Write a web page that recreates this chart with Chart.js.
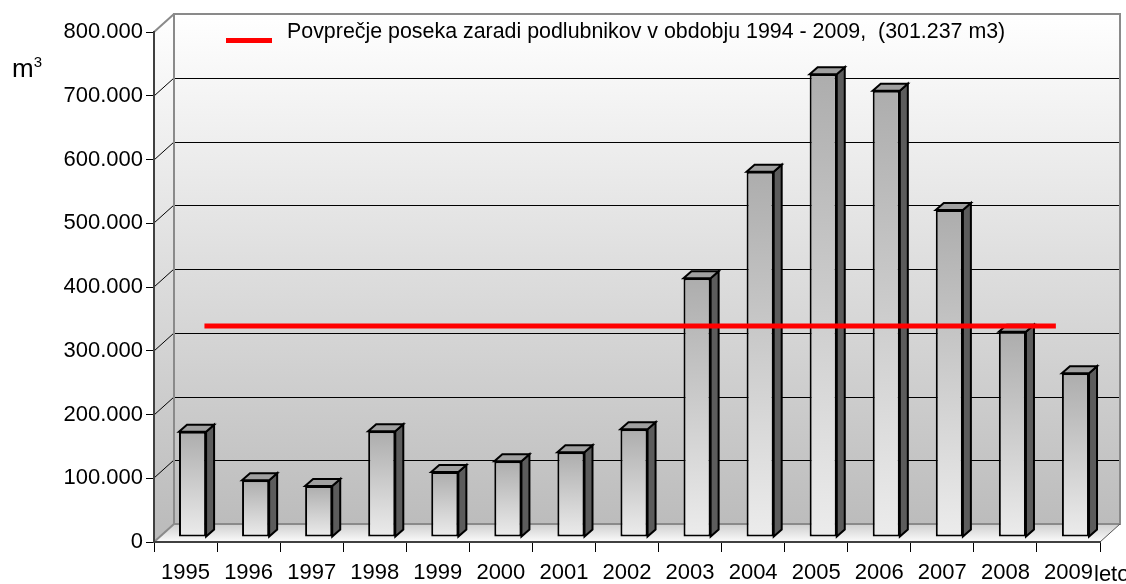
<!DOCTYPE html>
<html>
<head>
<meta charset="utf-8">
<script src="https://cdn.jsdelivr.net/npm/chart.js@4.4.1/dist/chart.umd.min.js"></script>
<style>
  html, body { margin: 0; padding: 0; background: #fff; }
  #okvir { width: 1126px; height: 584px; }
</style>
</head>
<body>
<div id="okvir"><canvas id="graf" width="1126" height="584"></canvas></div>
<script>
// podatki, odčitani s slike
const leta = ["1995", "1996", "1997", "1998", "1999", "2000", "2001", "2002",
  "2003", "2004", "2005", "2006", "2007", "2008", "2009"];
const posek = [165000, 89000, 80000, 166000, 102000, 119000, 133000, 169000,
  406000, 573000, 726000, 700000, 513000, 322000, 257000];
const yOznake = [0, 100000, 200000, 300000, 400000, 500000, 600000, 700000, 800000];
const povprecjeNivo = 339000;
const povprecjeLeta = [1995.3, 2008.8];
const legendaBesedilo = "Povprečje poseka zaradi podlubnikov v obdobju 1994 - 2009,  (301.237 m3)";
const enota = ["m", "3"];
const osXNaslov = "leto";

const FONT = "'Liberation Sans', Arial, sans-serif";
const GLOBINA = { x: 20, y: -18 };        // zamik zadnje stene
const STOLPEC_ZAMIK = { x: 7, y: -5 };    // sprednja ploskev stolpca
const STOLPEC_GLOBINA = { x: 8, y: -7 };  // debelina stolpca

function formatirajStevilo(v) {
  return Number(v).toLocaleString("de-DE");
}

function gradientStolpca(context) {
  const chart = context.chart;
  const y = chart.scales.y;
  if (context.type !== "data" || !y) return "#c8c8c8";
  const vrh = y.getPixelForValue(context.raw);
  const dno = y.getPixelForValue(0);
  if (!isFinite(vrh) || !isFinite(dno) || vrh === dno) return "#c8c8c8";
  const g = chart.ctx.createLinearGradient(0, vrh, 0, dno);
  g.addColorStop(0, "#adadad");
  g.addColorStop(1, "#ececec");
  return g;
}

const stene3d = {
  id: "stene3d",
  beforeDraw(chart) {
    const { ctx, chartArea: a, scales } = chart;
    const y = scales.y;
    const dx = GLOBINA.x, dy = GLOBINA.y;

    ctx.save();

    // zadnja stena
    const gStena = ctx.createLinearGradient(0, a.top + dy, 0, a.bottom + dy);
    gStena.addColorStop(0, "#ffffff");
    gStena.addColorStop(1, "#bcbcbc");
    ctx.fillStyle = gStena;
    ctx.fillRect(a.left + dx, a.top + dy, a.right - a.left, a.bottom - a.top);

    // leva stena
    ctx.beginPath();
    ctx.moveTo(a.left, a.top);
    ctx.lineTo(a.left + dx, a.top + dy);
    ctx.lineTo(a.left + dx, a.bottom + dy);
    ctx.lineTo(a.left, a.bottom);
    ctx.closePath();
    ctx.fill();

    // tla
    const gTla = ctx.createLinearGradient(0, a.bottom + dy, 0, a.bottom);
    gTla.addColorStop(0, "#cfcfcf");
    gTla.addColorStop(1, "#fbfbfb");
    ctx.fillStyle = gTla;
    ctx.beginPath();
    ctx.moveTo(a.left, a.bottom);
    ctx.lineTo(a.left + dx, a.bottom + dy);
    ctx.lineTo(a.right + dx, a.bottom + dy);
    ctx.lineTo(a.right, a.bottom);
    ctx.closePath();
    ctx.fill();

    // mreža na zadnji steni in diagonale na levi steni
    yOznake.forEach(v => {
      const py = Math.round(y.getPixelForValue(v));
      const rob = v === 0 || v === 800000;
      if (!rob) {
        ctx.strokeStyle = "#000";
        ctx.lineWidth = 1;
        ctx.beginPath();
        ctx.moveTo(a.left + dx, py + dy + 0.5);
        ctx.lineTo(a.right + dx, py + dy + 0.5);
        ctx.stroke();
      }
      ctx.strokeStyle = rob ? "#8a8a8a" : "#000";
      ctx.lineWidth = rob ? 2 : 1;
      ctx.beginPath();
      ctx.moveTo(a.left, py);
      ctx.lineTo(a.left + dx, py + dy);
      ctx.stroke();
    });

    // robovi sten
    ctx.strokeStyle = "#8a8a8a";
    ctx.lineWidth = 2;
    ctx.beginPath();
    ctx.moveTo(a.left + dx, a.bottom + dy);
    ctx.lineTo(a.left + dx, a.top + dy);
    ctx.lineTo(a.right + dx, a.top + dy);
    ctx.lineTo(a.right + dx, a.bottom + dy);
    ctx.lineTo(a.left + dx, a.bottom + dy);
    ctx.stroke();

    ctx.strokeStyle = "#555";
    ctx.lineWidth = 1;
    ctx.beginPath();
    ctx.moveTo(a.right, a.bottom);
    ctx.lineTo(a.right + dx, a.bottom + dy);
    ctx.stroke();

    ctx.restore();
  },
  beforeDatasetDraw(chart, args) {
    if (args.index !== 0) return;
    chart.ctx.save();
    chart.ctx.translate(STOLPEC_ZAMIK.x, STOLPEC_ZAMIK.y);
  },
  afterDatasetDraw(chart, args) {
    if (args.index !== 0) return;
    const ctx = chart.ctx;
    const dx = STOLPEC_GLOBINA.x, dy = STOLPEC_GLOBINA.y;
    ctx.lineWidth = 2;
    ctx.strokeStyle = "#000";
    ctx.lineJoin = "miter";
    args.meta.data.forEach(el => {
      const { x, y, base, width } = el.getProps(["x", "y", "base", "width"], true);
      const l = x - width / 2, r = x + width / 2;
      // desna stranica
      ctx.fillStyle = "#5c5c5c";
      ctx.beginPath();
      ctx.moveTo(r, y);
      ctx.lineTo(r + dx, y + dy);
      ctx.lineTo(r + dx, base + dy);
      ctx.lineTo(r, base);
      ctx.closePath();
      ctx.fill();
      ctx.stroke();
      // zgornja ploskev
      ctx.fillStyle = "#a0a0a0";
      ctx.beginPath();
      ctx.moveTo(l, y);
      ctx.lineTo(l + dx, y + dy);
      ctx.lineTo(r + dx, y + dy);
      ctx.lineTo(r, y);
      ctx.closePath();
      ctx.fill();
      ctx.stroke();
    });
    ctx.restore();
  },
  afterDraw(chart) {
    const ctx = chart.ctx;
    ctx.save();

    // legenda
    ctx.fillStyle = "#ff0000";
    ctx.fillRect(226, 38, 46, 5);
    ctx.fillStyle = "#000";
    ctx.font = "21.4px " + FONT;
    ctx.textBaseline = "alphabetic";
    ctx.textAlign = "left";
    ctx.fillText(legendaBesedilo, 287, 38);

    // enota
    ctx.font = "26px " + FONT;
    ctx.fillText(enota[0], 12, 77);
    const w = ctx.measureText(enota[0]).width;
    ctx.font = "15px " + FONT;
    ctx.fillText(enota[1], 12 + w, 67);

    // naslov osi x
    ctx.font = "22px " + FONT;
    ctx.fillText(osXNaslov, 1094, 581);

    ctx.restore();
  }
};

new Chart(document.getElementById("graf"), {
  type: "bar",
  data: {
    labels: leta,
    datasets: [
      {
        type: "bar",
        label: "Posek",
        data: posek,
        order: 1,
        grouped: false,
        backgroundColor: gradientStolpca,
        borderColor: "#000",
        borderWidth: 2,
        borderSkipped: false,
        categoryPercentage: 1,
        barPercentage: 0.43,
        clip: false
      },
      {
        type: "line",
        label: legendaBesedilo,
        data: povprecjeLeta.map(l => ({ x: l, y: povprecjeNivo })),
        xAxisID: "xl",
        order: 0,
        borderColor: "#ff0000",
        borderWidth: 5,
        pointRadius: 0,
        borderCapStyle: "butt",
        clip: false
      }
    ]
  },
  options: {
    responsive: false,
    devicePixelRatio: 1,
    animation: false,
    layout: { padding: { top: 32, right: 26, left: 0, bottom: 0 } },
    plugins: {
      legend: { display: false },
      tooltip: { enabled: false }
    },
    scales: {
      x: {
        type: "category",
        offset: true,
        grid: {
          offset: true,
          drawOnChartArea: false,
          drawTicks: true,
          tickLength: 10,
          color: "#000"
        },
        border: { display: true, color: "#404040", width: 2 },
        ticks: {
          font: { family: FONT, size: 22 },
          color: "#000",
          padding: 8,
          maxRotation: 0,
          autoSkip: false
        },
        afterFit(scale) { scale.height = 42; }
      },
      xl: {
        type: "linear",
        display: false,
        offset: false,
        min: 1994.5,
        max: 2009.5
      },
      y: {
        min: 0,
        max: 800000,
        afterBuildTicks(scale) {
          scale.ticks = yOznake.map(v => ({ value: v }));
        },
        grid: {
          drawOnChartArea: false,
          drawTicks: true,
          tickLength: 8,
          color: "#000"
        },
        border: { display: true, color: "#404040", width: 2 },
        ticks: {
          font: { family: FONT, size: 22 },
          color: "#000",
          padding: 3,
          callback: v => formatirajStevilo(v)
        },
        afterFit(scale) { scale.width = 154; }
      }
    }
  },
  plugins: [stene3d]
});
</script>
</body>
</html>
